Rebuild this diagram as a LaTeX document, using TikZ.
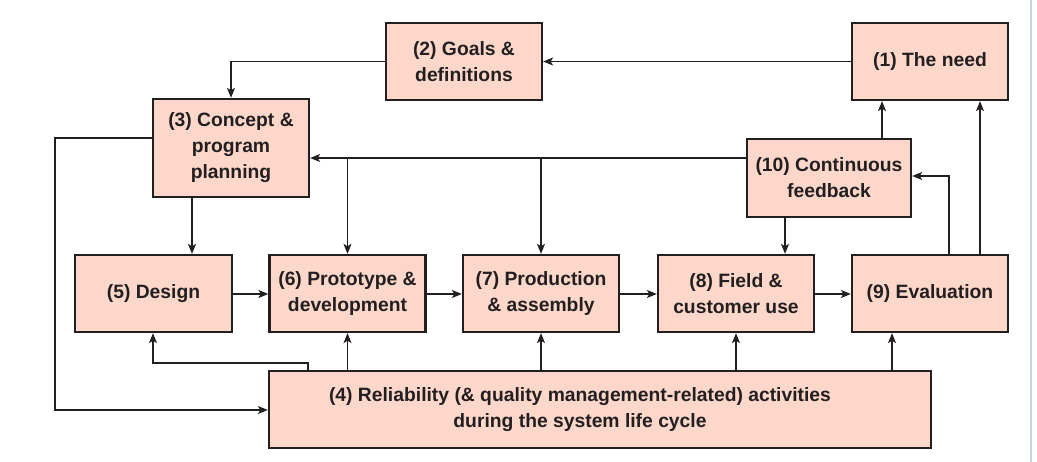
\documentclass[tikz,border=0pt]{standalone}
\usepackage{fontspec}
\setmainfont{Liberation Sans}
\usetikzlibrary{arrows.meta}
\definecolor{boxfill}{HTML}{FCD7CA}
\definecolor{ink}{HTML}{231F20}
\definecolor{edgeline}{HTML}{C9D4E0}
\tikzset{
  stagebox/.style={draw=ink, line width=2.3pt, fill=boxfill, align=center,
    minimum width=156pt, minimum height=77pt, inner sep=2pt,
    font=\fontsize{19.3}{26}\selectfont\bfseries, text=ink},
  boxtext/.style={align=center, inner sep=0pt,
    font=\fontsize{19.3}{26}\selectfont\bfseries, text=ink},
  conn/.style={draw=ink, line width=1.3pt},
  arr/.style={conn, -{Stealth[length=10pt,width=8pt,inset=2.5pt]}}
}
\begin{document}
\begin{tikzpicture}[x=1pt,y=-1pt]
\useasboundingbox[fill=white] (0,0) rectangle (1037,462);
\draw[edgeline, line width=1.5pt] (1031,0) -- (1031,462);

\node[stagebox] (n1) at (930,61.5) {(1) The need};
\node[stagebox] (n2) at (464,61.5) {(2) Goals \&\\definitions};
\node[stagebox, minimum height=98pt] (n3) at (231,148) {(3) Concept \&\\program\\planning};
\node[stagebox, minimum width=164pt, minimum height=78pt] (n10) at (829,178) {(10) Continuous\\feedback};
\node[stagebox, minimum width=157pt] (n5) at (153.5,293.5) {(5) Design};
\node[stagebox] (n6) at (347.5,293.5) {(6) Prototype \&\\development};
\node[stagebox] (n7) at (541,293.5) {(7) Production\\\& assembly};
\node[stagebox] (n8) at (736,293.5) {(8) Field \&\\customer use};
\node[stagebox] (n9) at (930,293.5) {(9) Evaluation};
\node[stagebox, minimum width=662pt] (n4) at (600,409.5) {};
\node[boxtext] (n4t) at (580,409.5) {(4) Reliability (\& quality management-related) activities\\during the system life cycle};

% top row
\draw[arr] (n1.west) -- (n2.east);
\draw[arr] (n2.west) -| (n3.north);
% 3 -> 4 loop on the left
\draw[arr] (n3.west |- 0,138) -- (55,138) -- (55,410) -- (n4.west |- 0,410);
% 10 -> 3, 6, 7
\draw[arr] (n10.west |- 0,158) -- (n3.east |- 0,158);
\coordinate (b6) at (n6.north |- 0,158);
\coordinate (b7) at (n7.north |- 0,158);
\draw[arr] (b6) -- (n6.north);
\draw[arr] (b7) -- (n7.north);
% 10 -> 8 and 10 -> 1
\draw[arr] (n10.south -| 785,0) -- (n8.north -| 785,0);
\draw[arr] (n10.north -| 882,0) -- (n1.south -| 882,0);
% 9 -> 10 and 9 -> 1
\draw[arr] (n9.north -| 949,0) -- (949,176) -- (n10.east |- 0,176);
\draw[arr] (n9.north -| 980,0) -- (n1.south -| 980,0);
% 3 -> 5
\draw[arr] (n3.south -| 192,0) -- (n5.north -| 192,0);
% chain
\draw[arr] (n5.east |- 0,294) -- (n6.west |- 0,294);
\draw[arr] (n6.east |- 0,294) -- (n7.west |- 0,294);
\draw[arr] (n7.east |- 0,294) -- (n8.west |- 0,294);
\draw[arr] (n8.east |- 0,294) -- (n9.west |- 0,294);
% 4 -> 5..9
\draw[arr] (n4.north -| 308,0) -- (308,363) -- (153,363) -- (n5.south -| 153,0);
\draw[arr] (n4.north -| n6.south) -- (n6.south);
\draw[arr] (n4.north -| n7.south) -- (n7.south);
\draw[arr] (n4.north -| n8.south) -- (n8.south);
\draw[arr] (n4.north -| 892,0) -- (n9.south -| 892,0);
\end{tikzpicture}
\end{document}
